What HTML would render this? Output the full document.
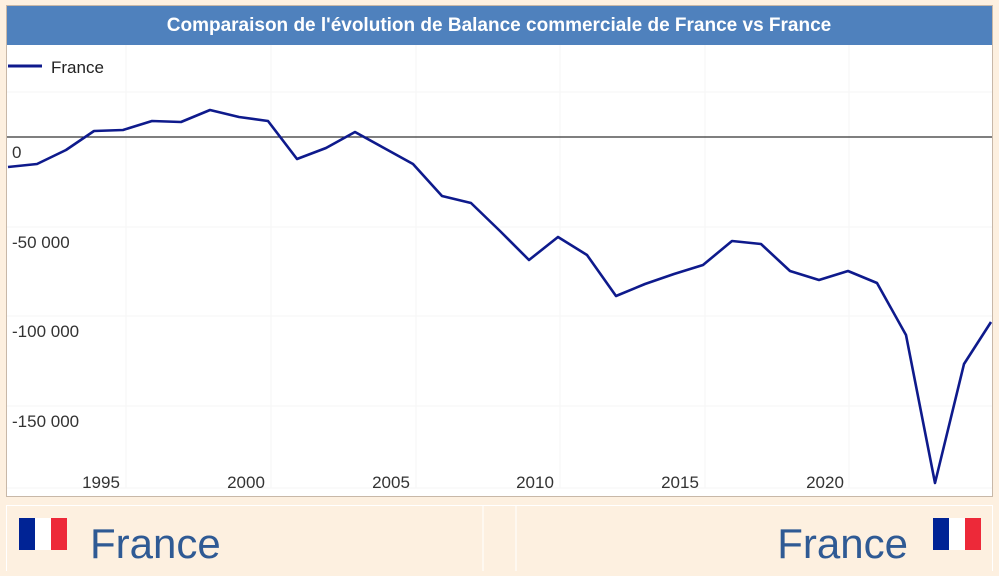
<!DOCTYPE html>
<html><head><meta charset="utf-8"><style>
body{margin:0;background:#fdf0e0;width:999px;height:571px;overflow:hidden;font-family:"Liberation Sans",sans-serif}
</style></head><body>
<svg width="999" height="571" xmlns="http://www.w3.org/2000/svg" font-family="Liberation Sans, sans-serif">
<rect x="0" y="0" width="999" height="571" fill="#fdf0e0"/>
<rect x="6.5" y="5.5" width="986" height="491" fill="#fff" stroke="#c8b8a8"/>
<rect x="7" y="6" width="985" height="39" fill="#4f81bd"/>
<text x="499" y="31" text-anchor="middle" fill="#fff" font-weight="bold" font-size="19">Comparaison de l'évolution de Balance commerciale de France vs France</text>
<g stroke="#f5f5f5" stroke-width="1">
<line x1="7" y1="92" x2="992" y2="92"/><line x1="7" y1="227" x2="992" y2="227"/><line x1="7" y1="316" x2="992" y2="316"/><line x1="7" y1="406" x2="992" y2="406"/><line x1="7" y1="488" x2="992" y2="488"/>
<line x1="126" y1="45" x2="126" y2="488"/><line x1="271" y1="45" x2="271" y2="488"/><line x1="416" y1="45" x2="416" y2="488"/><line x1="560" y1="45" x2="560" y2="488"/><line x1="705" y1="45" x2="705" y2="488"/><line x1="849" y1="45" x2="849" y2="488"/>
</g>
<line x1="7" y1="137" x2="992" y2="137" stroke="#333" stroke-width="1.2"/>
<g font-size="17" fill="#333">
<text x="12" y="158">0</text><text x="12" y="248">-50 000</text><text x="12" y="337">-100 000</text><text x="12" y="427">-150 000</text>
<g text-anchor="middle"><text x="101" y="488">1995</text><text x="246" y="488">2000</text><text x="391" y="488">2005</text><text x="535" y="488">2010</text><text x="680" y="488">2015</text><text x="825" y="488">2020</text></g>
</g>
<line x1="8" y1="66" x2="42" y2="66" stroke="#0e1a8c" stroke-width="3"/>
<text x="51" y="73" font-size="17" fill="#222">France</text>
<polyline fill="none" stroke="#0e1a8c" stroke-width="2.6" stroke-linejoin="round" points="8,167 37,164 66,150 94,131 123,130 152,121 181,122 210,110 239,117 268,121 297,159 326,148 355,132 384,148 413,164 442,196 471,203 500,231 529,260 558,237 587,255 616,296 645,284 674,274 703,265 732,241 761,244 790,271 819,280 848,271 877,283 906,335 935,483 964,364 991,322"/>
<rect x="6.5" y="505.5" width="986" height="70" fill="none" stroke="#fff"/>
<line x1="483" y1="506" x2="483" y2="571" stroke="#fff"/><line x1="516" y1="506" x2="516" y2="571" stroke="#fff"/>
<rect x="19" y="518" width="16" height="32" fill="#002395"/><rect x="35" y="518" width="16" height="32" fill="#fff"/><rect x="51" y="518" width="16" height="32" fill="#ed2939"/>
<rect x="933" y="518" width="16" height="32" fill="#002395"/><rect x="949" y="518" width="16" height="32" fill="#fff"/><rect x="965" y="518" width="16" height="32" fill="#ed2939"/>
<text x="90" y="558" font-size="42" fill="#2f5a94">France</text>
<text x="908" y="558" font-size="42" fill="#2f5a94" text-anchor="end">France</text>
</svg>
</body></html>
